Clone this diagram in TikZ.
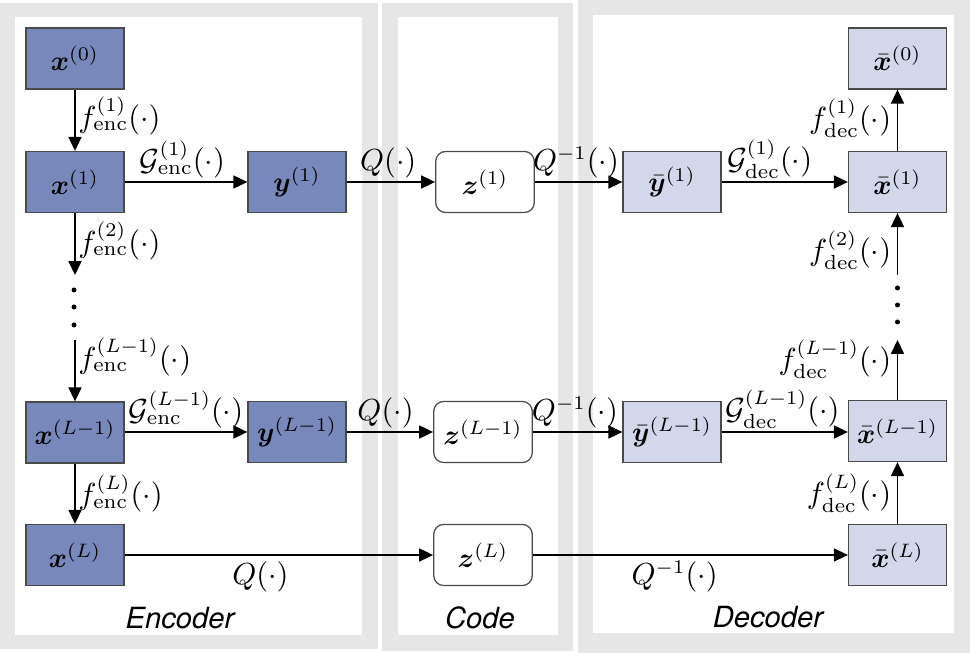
\documentclass[tikz,border=0pt]{standalone}
\usepackage{amsmath}
\usepackage{bm}
\usepackage{fontspec}
\newfontfamily\titlefont{TeX Gyre Heros}
\usetikzlibrary{arrows.meta}
\definecolor{panelgray}{HTML}{E6E6E6}
\definecolor{encfill}{HTML}{7788BB}
\definecolor{decfill}{HTML}{D2D7E9}
\definecolor{boxline}{HTML}{4A4A4A}
\tikzset{
  encbox/.style={draw=boxline, line width=0.45pt, fill=encfill, minimum width=35.3pt, minimum height=22pt, inner sep=0pt, font=\fontsize{10.3}{12}\selectfont},
  decbox/.style={draw=boxline, line width=0.45pt, fill=decfill, minimum width=35.3pt, minimum height=22pt, inner sep=0pt, font=\fontsize{10.3}{12}\selectfont},
  codebox/.style={draw=boxline, line width=0.45pt, fill=white, rounded corners=3.6pt, minimum width=35.5pt, minimum height=22pt, inner sep=0pt, font=\fontsize{10.3}{12}\selectfont},
  arr/.style={line width=0.5pt, -{Triangle[length=5pt,width=4.7pt]}},
  lbl/.style={inner sep=1pt, font=\fontsize{10.5}{12}\selectfont},
  ttl/.style={font=\titlefont\itshape\fontsize{10.5}{12}\selectfont, inner sep=0pt},
  dotm/.style={circle, fill=black, inner sep=0pt, minimum size=1.8pt}
}
\begin{document}
\begin{tikzpicture}[x=0.36pt, y=-0.36pt]
\useasboundingbox (0,0) rectangle (970,653);
% panels
\fill[panelgray] (0,3) rectangle (378,649);
\fill[white] (15,17) rectangle (362,635);
\fill[panelgray] (382,3) rectangle (573,651);
\fill[white] (398,17) rectangle (558,635);
\fill[panelgray] (578,0) rectangle (970,653);
\fill[white] (593,15) rectangle (954,633);
% titles
\node[ttl] (tenc) at (180,618) {Encoder};
\node[ttl] (tcode) at (480,618) {Code};
\node[ttl] (tdec) at (768,617) {Decoder};
% encoder nodes
\node[encbox] (x0) at (75,58.5) {$\bm{x}^{(0)}$};
\node[encbox] (x1) at (75,182) {$\bm{x}^{(1)}$};
\node[encbox] (xL1) at (75,432.5) {$\bm{x}^{(L-1)}$};
\node[encbox] (xL) at (75,555) {$\bm{x}^{(L)}$};
\node[encbox] (y1) at (297,182) {$\bm{y}^{(1)}$};
\node[encbox] (yL1) at (297,432) {$\bm{y}^{(L-1)}$};
% code nodes
\node[codebox] (z1) at (485,182) {$\bm{z}^{(1)}$};
\node[codebox] (zL1) at (483,432) {$\bm{z}^{(L-1)}$};
\node[codebox] (zL) at (483,555) {$\bm{z}^{(L)}$};
% decoder nodes
\node[decbox] (yb1) at (672,182) {$\bar{\bm{y}}^{(1)}$};
\node[decbox] (ybL1) at (672,432) {$\bar{\bm{y}}^{(L-1)}$};
\node[decbox] (xb0) at (897.5,58.5) {$\bar{\bm{x}}^{(0)}$};
\node[decbox] (xb1) at (897.5,182) {$\bar{\bm{x}}^{(1)}$};
\node[decbox] (xbL1) at (897.5,431) {$\bar{\bm{x}}^{(L-1)}$};
\node[decbox] (xbL) at (897.5,555) {$\bar{\bm{x}}^{(L)}$};
% helper coordinates
\coordinate (ea) at (75,275);
\coordinate (eb) at (75,340);
\coordinate (da) at (897.5,275);
\coordinate (db) at (897.5,340);
% dots
\node[dotm] (ed1) at (74,290) {};
\node[dotm] (ed2) at (74,307) {};
\node[dotm] (ed3) at (74,325) {};
\node[dotm] (dd1) at (897.5,288) {};
\node[dotm] (dd2) at (897.5,305) {};
\node[dotm] (dd3) at (897.5,322) {};
% encoder vertical arrows
\draw[arr] (x0) -- node[lbl, right, pos=0.43] {$f^{(1)}_{\text{enc}}(\cdot)$} (x1);
\draw[arr] (x1) -- node[lbl, right, pos=0.45] {$f^{(2)}_{\text{enc}}(\cdot)$} (ea);
\draw[arr] (eb) -- node[lbl, right, pos=0.28] {$f^{(L-1)}_{\text{enc}}(\cdot)$} (xL1);
\draw[arr] (xL1) -- node[lbl, right, pos=0.5] {$f^{(L)}_{\text{enc}}(\cdot)$} (xL);
% encoder horizontal
\draw[arr] (x1) -- node[lbl, above, pos=0.47] {$\mathcal{G}^{(1)}_{\text{enc}}(\cdot)$} (y1);
\draw[arr] (xL1.east |- yL1) -- node[lbl, above, pos=0.5] {$\mathcal{G}^{(L-1)}_{\text{enc}}(\cdot)$} (yL1);
% quantization
\draw[arr] (y1) -- node[lbl, above, pos=0.47] {$Q(\cdot)$} (z1);
\draw[arr] (yL1) -- node[lbl, above, pos=0.45] {$Q(\cdot)$} (zL1);
\draw[arr] (xL.east |- zL) -- node[lbl, below, pos=0.44, inner sep=2pt] {$Q(\cdot)$} (zL);
% dequantization
\draw[arr] (z1) -- node[lbl, above, pos=0.47] {$Q^{-1}(\cdot)$} (yb1);
\draw[arr] (zL1) -- node[lbl, above, pos=0.47] {$Q^{-1}(\cdot)$} (ybL1);
\draw[arr] (zL) -- node[lbl, below, pos=0.45, inner sep=2pt] {$Q^{-1}(\cdot)$} (xbL);
% decoder horizontal
\draw[arr] (yb1) -- node[lbl, above, pos=0.38] {$\mathcal{G}^{(1)}_{\text{dec}}(\cdot)$} (xb1);
\draw[arr] (ybL1) -- node[lbl, above, pos=0.48] {$\mathcal{G}^{(L-1)}_{\text{dec}}(\cdot)$} (xbL1.west |- ybL1);
% decoder vertical
\draw[arr] (xb1) -- node[lbl, left, pos=0.53, inner sep=2pt] {$f^{(1)}_{\text{dec}}(\cdot)$} (xb0);
\draw[arr] (da) -- node[lbl, left, pos=0.4, inner sep=2pt] {$f^{(2)}_{\text{dec}}(\cdot)$} (xb1);
\draw[arr] (xbL1) -- node[lbl, left, pos=0.68, inner sep=2pt] {$f^{(L-1)}_{\text{dec}}(\cdot)$} (db);
\draw[arr] (xbL) -- node[lbl, left, pos=0.5, inner sep=2pt] {$f^{(L)}_{\text{dec}}(\cdot)$} (xbL1);
\end{tikzpicture}
\end{document}
